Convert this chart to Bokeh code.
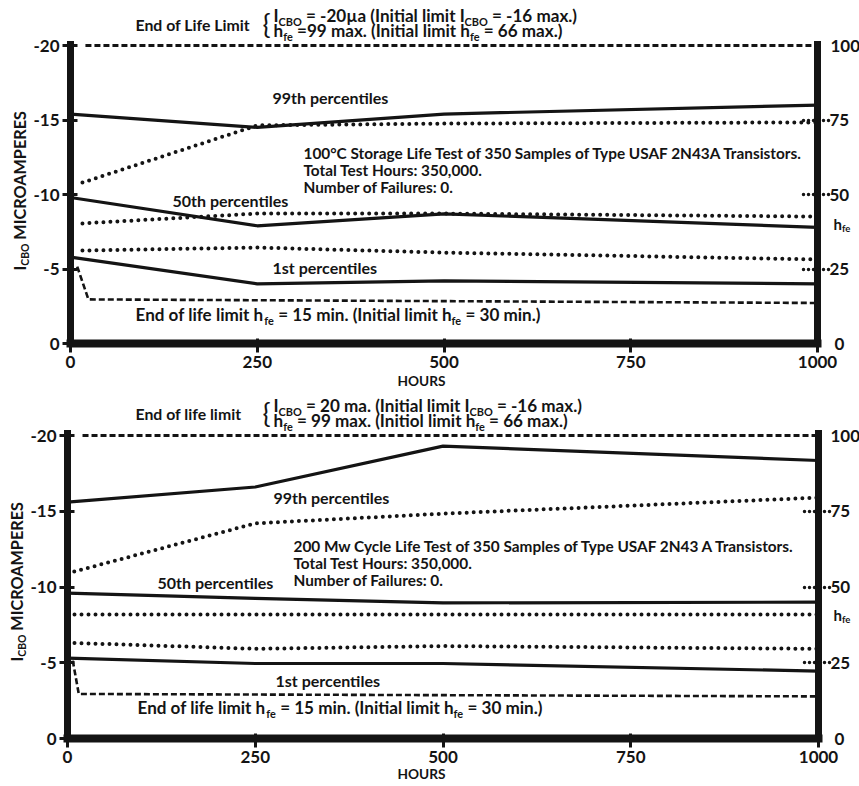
import glob, os, struct, math
from bokeh.plotting import figure
from bokeh.models import Range1d, LinearAxis, FixedTicker, Label
from bokeh.layouts import column
from bokeh.embed import file_html
from bokeh.resources import INLINE

# ---------------- data ----------------
hours = [0, 250, 500, 1000]
top_hfe_hours = [16, 250, 500, 1000]

x_ticks = [0, 250, 500, 750, 1000]
x_tick_labels = ["0", "250", "500", "750", "1000"]
icbo_ticks = [-20, -15, -10, -5, 0]
icbo_tick_labels = ["-20", "-15", "-10", "-5", "0"]
hfe_ticks = [25, 50, 75]
hfe_tick_labels = ["25", "50", "75"]
hfe_end_labels = ["100", "0"]

# upper panel : 100 C storage life test
top_icbo_99 = [-15.4, -14.5, -15.4, -16.0]
top_icbo_50 = [-9.8, -7.9, -8.7, -7.8]
top_icbo_1 = [-5.8, -4.0, -4.2, -4.0]
top_hfe_99 = [54.0, 73.2, 73.8, 74.2]
top_hfe_50 = [40.3, 43.6, 43.6, 42.6]
top_hfe_1 = [31.2, 32.2, 30.5, 28.2]
top_max_hours = [20, 1000]
top_max_hfe = [100, 100]
top_min_hours = [9, 24, 1000]
top_min_hfe = [25.8, 14.8, 13.6]

# lower panel : 200 mW cycle life test
bot_icbo_99 = [-15.6, -16.6, -19.3, -18.35]
bot_icbo_50 = [-9.6, -9.25, -8.95, -9.0]
bot_icbo_1 = [-5.3, -4.95, -4.95, -4.45]
bot_hfe_99 = [54.5, 71.0, 74.2, 79.5]
bot_hfe_50 = [40.9, 40.9, 40.9, 40.9]
bot_hfe_1 = [31.6, 29.6, 30.5, 29.6]
bot_max_hours = [20, 1000]
bot_max_hfe = [100, 100]
bot_min_hours = [7, 15, 1000]
bot_min_hfe = [25.7, 14.7, 13.9]

# texts
top_limit_title = "End of Life Limit"
top_limit_l1 = [("I", 0), ("CBO", 1), (" = -20\u00b5a (Initial limit I", 0), ("CBO", 1), (" = -16 max.)", 0)]
top_limit_l2 = [("h", 0), ("fe", 1), (" =99 max. (Initial limit h", 0), ("fe", 1), (" = 66 max.)", 0)]
top_info = ["100\u00b0C Storage Life Test of 350 Samples of Type USAF 2N43A Transistors.",
            "Total Test Hours: 350,000.", "Number of Failures: 0."]
bot_limit_title = "End of life limit"
bot_limit_l1 = [("I", 0), ("CBO", 1), (" = 20 ma. (Initial limit I", 0), ("CBO", 1), (" = -16 max.)", 0)]
bot_limit_l2 = [("h", 0), ("fe", 1), (" = 99 max. (Initiol limit h", 0), ("fe", 1), (" = 66 max.)", 0)]
bot_info = ["200 Mw Cycle Life Test of 350 Samples of Type USAF 2N43 A Transistors.",
            "Total Test Hours: 350,000.", "Number of Failures: 0."]
eol_min = [("End of life limit h", 0), ("fe", 1), (" = 15 min. (Initial limit h", 0), ("fe", 1), (" = 30 min.)", 0)]
pct_labels = ["99th percentiles", "50th percentiles", "1st percentiles"]
y_title = [("I", 0), ("CBO", 1), (" MICROAMPERES", 0)]
hfe_title = [("h", 0), ("fe", 1)]
x_title = "HOURS"

INK = "#141414"
FONT = "Lato"
SUB = 0.64
W_PAGE = 859


# ---------------- font metrics (for placing subscripts) ----------------
def _parse_font(path):
    data = open(path, "rb").read()
    H = lambda o: struct.unpack(">H", data[o:o + 2])[0]
    h = lambda o: struct.unpack(">h", data[o:o + 2])[0]
    num = H(4)
    tabs = {}
    for i in range(num):
        rec = data[12 + 16 * i:28 + 16 * i]
        tabs[rec[:4].decode("latin1")] = struct.unpack(">I", rec[8:12])[0]
    upem = H(tabs["head"] + 18)
    nhm = H(tabs["hhea"] + 34)
    hm = tabs["hmtx"]
    cm = tabs["cmap"]
    o4 = None
    for i in range(H(cm + 2)):
        pid, eid, off = struct.unpack(">HHI", data[cm + 4 + 8 * i:cm + 12 + 8 * i])
        if H(cm + off) == 4 and pid in (0, 3):
            o4 = cm + off
            break
    segx2 = H(o4 + 6)
    n = segx2 // 2
    ends = [H(o4 + 14 + 2 * i) for i in range(n)]
    starts = [H(o4 + 16 + segx2 + 2 * i) for i in range(n)]
    deltas = [h(o4 + 16 + 2 * segx2 + 2 * i) for i in range(n)]
    rpos = o4 + 16 + 3 * segx2
    roffs = [H(rpos + 2 * i) for i in range(n)]

    def glyph(c):
        cp = ord(c)
        for i in range(n):
            if ends[i] >= cp:
                if starts[i] > cp:
                    return 0
                if roffs[i] == 0:
                    return (cp + deltas[i]) & 0xFFFF
                g = H(rpos + 2 * i + roffs[i] + 2 * (cp - starts[i]))
                return (g + deltas[i]) & 0xFFFF if g else 0
        return 0

    def adv(g):
        g = min(g, nhm - 1)
        return H(hm + 4 * g)

    cache = {}

    def width(s):
        tot = 0
        for c in s:
            if c not in cache:
                cache[c] = adv(glyph(c)) / upem
            tot += cache[c]
        return tot
    width("abc")
    return width


def _find(name):
    roots = ["/usr/share/fonts", "/usr/local/share/fonts",
             os.path.expanduser("~/.fonts"), os.path.expanduser("~/.local/share/fonts")]
    for root in roots:
        for path in glob.glob(os.path.join(root, "**", name), recursive=True):
            try:
                return _parse_font(path)
            except Exception:
                pass
    return None


_FB = {}
for w, chars in {0.2: " ", 0.24: ".,:;'", 0.26: "ijl|!", 0.29: "I", 0.31: "(){}", 0.34: "f",
                 0.36: "t-", 0.38: "r", 0.43: "s", 0.46: "cz", 0.5: "akvxy", 0.53: "e",
                 0.55: "EFLgPS", 0.56: "bdhnopqu\u00b5", 0.58: "0123456789=T", 0.62: "R",
                 0.65: "BCKXYZ", 0.7: "AVG", 0.75: "DHNUO", 0.77: "w", 0.85: "mM", 1.0: "W",
                 0.4: "\u00b0"}.items():
    for ch in chars:
        _FB[ch] = w


def _fallback(s):
    return sum(_FB.get(c, 0.55) for c in s)


BOLD_W = _find("Lato-Bold.ttf") or _fallback


def rich_width(parts, size):
    return sum(BOLD_W(t) * size * (SUB if s else 1) for t, s in parts)


def fit_text(text, target):
    return target / BOLD_W(text)


def fit_rich(parts, target):
    return target / rich_width(parts, 1.0)


# ---------------- panel geometry (screen pixels) ----------------
class Panel:
    """Maps screen pixels to data; the plot frame covers the whole figure."""
    def __init__(self, left, right, y20, y0, page_top, page_h):
        self.fl = left
        self.fw = right - left
        self.fb = y0
        self.pxu = (y0 - y20) / 20.0
        self.page_top = page_top
        self.page_h = page_h

    def hx(self, sx):
        return (sx - self.fl) / self.fw * 1000.0

    def val(self, sy):
        return -(self.fb - sy) / self.pxu

    def data(self, sx, sy):
        return self.hx(sx), self.val(sy)


def put(p, g, sx, sy, text, size, bold=True, align="left", baseline="middle", angle=0.0):
    x, y = g.data(sx, sy)
    p.add_layout(Label(x=x, y=y, text=text, text_font=FONT, text_font_size="%.2fpx" % size,
                       text_font_style="bold" if bold else "normal", text_color=INK,
                       text_align=align, text_baseline=baseline, angle=angle))


def rich(p, g, sx, sy, parts, size, vertical=False):
    """Text with subscripts; (sx, sy) is the left end (bottom end if vertical) of the centre line."""
    pos = sy if vertical else sx
    drop = size * (0.587 - 0.387 * SUB)
    for t, s in parts:
        sz = size * (SUB if s else 1)
        body = t.strip(" ")
        lead = BOLD_W(t[:len(t) - len(t.lstrip(" "))]) * sz
        if vertical:
            put(p, g, sx + (drop if s else 0), pos - lead, body, sz, angle=math.pi / 2)
            pos -= BOLD_W(t) * sz
        else:
            put(p, g, pos + lead, sy + (drop if s else 0), body, sz)
            pos += BOLD_W(t) * sz


size_head = fit_text(top_limit_title, 115)
size_pct = fit_text(pct_labels[0], 116)
size_info = fit_text(top_info[0], 507)
size_eol = fit_rich(eol_min, 405)
size_ylab = fit_rich(y_title, 160)
size_hours = fit_text(x_title, 48)


def make_panel(g, series, texts):
    y_bottom = g.val(g.page_top + g.page_h)
    y_top = g.val(g.page_top)
    p = figure(width=W_PAGE, height=g.page_h, min_border=0,
               x_range=Range1d(g.hx(0), g.hx(W_PAGE)), y_range=Range1d(y_bottom, y_top),
               x_axis_location=None, y_axis_location=None,
               output_backend="svg", toolbar_location=None)
    p.extra_y_ranges = {"hfe": Range1d(-5 * y_bottom, -5 * y_top)}
    p.background_fill_color = "white"
    p.border_fill_color = "white"
    p.outline_line_color = None
    p.grid.visible = False

    def style(ax, lw):
        ax.axis_line_color = INK
        ax.axis_line_width = lw
        ax.axis_line_cap = "square"
        ax.major_tick_line_color = INK
        ax.minor_tick_line_color = None
        ax.major_label_text_font = FONT
        ax.major_label_text_font_style = "bold"
        ax.major_label_text_font_size = "17px"
        ax.major_label_text_color = INK

    xa = LinearAxis(fixed_location=0, bounds=(0, 1000))
    style(xa, 8)
    xa.ticker = FixedTicker(ticks=x_ticks)
    xa.major_label_overrides = dict(zip(x_ticks, x_tick_labels))
    xa.major_tick_in = 5
    xa.major_tick_out = 9
    xa.major_tick_line_width = 3
    xa.major_label_standoff = 3
    p.add_layout(xa, "below")

    ya = LinearAxis(fixed_location=0, bounds=(-20.1, 0))
    style(ya, 7)
    ya.ticker = FixedTicker(ticks=icbo_ticks)
    ya.major_label_overrides = dict(zip(icbo_ticks, icbo_tick_labels))
    ya.major_tick_in = 7
    ya.major_tick_out = 8
    ya.major_tick_line_width = 3
    ya.major_label_standoff = 3
    p.add_layout(ya, "left")

    ra = LinearAxis(y_range_name="hfe", fixed_location=1000, bounds=(0, 100.5))
    style(ra, 7)
    ra.ticker = FixedTicker(ticks=hfe_ticks)
    ra.major_label_overrides = dict(zip(hfe_ticks, hfe_tick_labels))
    ra.major_tick_in = 15
    ra.major_tick_out = 11
    ra.major_tick_line_width = 3.5
    ra.major_tick_line_dash = "0 5"
    ra.major_tick_line_cap = "round"
    ra.major_label_standoff = 1
    p.add_layout(ra, "right")

    (h_icbo, icbo99, icbo50, icbo1, h_hfe, hfe99, hfe50, hfe1,
     mx_h, mx_v, mn_h, mn_v) = series
    for ys in (icbo99, icbo50, icbo1):
        p.line(h_icbo, ys, line_color=INK, line_width=3.2, line_join="round")
    for ys in (hfe99, hfe50, hfe1):
        p.line(h_hfe, ys, y_range_name="hfe", line_color=INK, line_width=4,
               line_dash="0 7", line_cap="round")
    p.line(mx_h, mx_v, y_range_name="hfe", line_color=INK, line_width=2.8, line_dash="6 3")
    p.line(mn_h, mn_v, y_range_name="hfe", line_color=INK, line_width=2.6, line_dash="6 3")

    T = texts
    put(p, g, 135, T["title_y"], T["title"], size_head)
    put(p, g, 262, T["brace_y"], "{", 27, bold=False)
    rich(p, g, 273, T["l1_y"], T["l1"], size_eol)
    rich(p, g, 273, T["l2_y"], T["l2"], size_eol)
    for (sx, sy), txt in zip(T["pct_pos"], pct_labels):
        put(p, g, sx, sy, txt, size_pct)
    for i, txt in enumerate(T["info"]):
        put(p, g, T["info_x"], T["info_y"][i], txt, size_info)
    rich(p, g, T["eol_x"], T["eol_y"], eol_min, size_eol)
    put(p, g, 421, T["hours_y"], x_title, size_hours, align="center")
    put(p, g, 830, g.fb - 20 * g.pxu, hfe_end_labels[0], 17)
    put(p, g, 834, g.fb, hfe_end_labels[1], 17)
    rich(p, g, 833, T["hfe_y"], hfe_title, 15)
    rich(p, g, T["ylab_x"], T["ylab_y"], y_title, size_ylab, vertical=True)
    return p


top_g = Panel(70, 817, 45, 343, 0, 390)
bot_g = Panel(67, 818, 435, 738, 390, 396)

p1 = make_panel(top_g,
                (hours, top_icbo_99, top_icbo_50, top_icbo_1, top_hfe_hours, top_hfe_99,
                 top_hfe_50, top_hfe_1, top_max_hours, top_max_hfe, top_min_hours, top_min_hfe),
                dict(title=top_limit_title, title_y=24, brace_y=23, l1=top_limit_l1, l1_y=15,
                     l2=top_limit_l2, l2_y=30, pct_pos=[(272, 97), (172, 200), (272, 267)],
                     info=top_info, info_x=303, info_y=[152, 169, 186], eol_x=135, eol_y=314,
                     hours_y=380, hfe_y=223, ylab_x=19, ylab_y=270))
p2 = make_panel(bot_g,
                (hours, bot_icbo_99, bot_icbo_50, bot_icbo_1, hours, bot_hfe_99,
                 bot_hfe_50, bot_hfe_1, bot_max_hours, bot_max_hfe, bot_min_hours, bot_min_hfe),
                dict(title=bot_limit_title, title_y=413, brace_y=412, l1=bot_limit_l1, l1_y=405,
                     l2=bot_limit_l2, l2_y=420, pct_pos=[(273, 497), (157, 582), (275, 680)],
                     info=bot_info, info_x=293, info_y=[545, 562, 579], eol_x=137, eol_y=707,
                     hours_y=773, hfe_y=614, ylab_x=16, ylab_y=661))

layout = column(p1, p2)
open("out.html", "w").write(file_html(layout, INLINE))
